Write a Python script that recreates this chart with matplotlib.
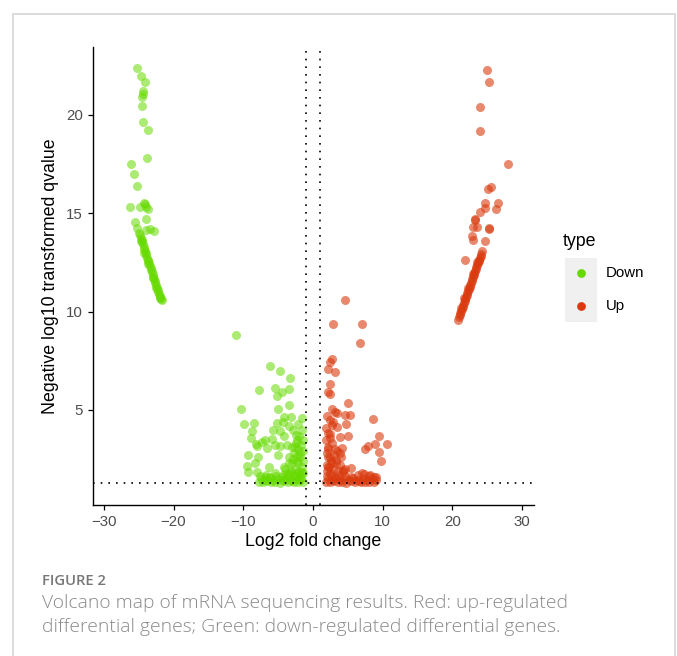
import matplotlib
matplotlib.use("Agg")
import matplotlib.pyplot as plt
from matplotlib.patches import Rectangle
from matplotlib.lines import Line2D

# ---------------- data ----------------
# Down-regulated (green): upper-left group
down_far_x = [-25.2, -24.7, -24.1, -24.4, -24.4, -24.5, -24.5, -24.4, -23.6, -23.8,
              -26.1, -25.7, -25.2, -26.3, -24.8, -24.3, -24.1, -24.0, -23.7, -23.9,
              -25.5, -25.2, -23.95, -23.4, -22.8]
down_far_y = [22.4, 22.0, 21.7, 21.2, 21.06, 20.9, 20.45, 19.64, 19.25, 17.82,
              17.52, 17.0, 16.37, 15.33, 15.33, 15.5, 15.47, 15.3, 15.2, 14.7,
              14.56, 14.27, 14.15, 14.2, 14.1]
# dense streak of the down group
down_streak_x = [-24.9, -24.8, -24.7, -24.6, -24.5, -24.4, -24.3, -24.2, -24.1, -24.0,
                 -23.9, -23.8, -23.7, -23.6, -23.5, -23.4, -23.3, -23.2, -23.1, -23.0,
                 -22.9, -22.8, -22.7, -22.6, -22.5, -22.4, -22.3, -22.2, -22.1, -22.0,
                 -21.9, -21.8, -21.7, -24.7, -24.2, -23.6, -23.0, -22.5, -22.0]
down_streak_y = [14.0, 13.9, 13.75, 13.65, 13.55, 13.45, 13.3, 13.2, 13.1, 13.0,
                 12.9, 12.75, 12.65, 12.55, 12.45, 12.3, 12.2, 12.1, 12.0, 11.9,
                 11.75, 11.65, 11.55, 11.45, 11.35, 11.2, 11.1, 11.0, 10.9, 10.8,
                 10.75, 10.65, 10.6, 13.6, 13.0, 12.4, 11.7, 11.2, 10.7]
# central down cluster
down_mid_x = [-11.05, -6.1, -4.8, -3.25, -7.7, -5.5, -4.4, -3.4, -5.1, -10.3,
              -5.0, -3.5, -4.1, -3.2, -9.85, -8.4, -5.2, -4.3, -3.4, -8.7,
              -5.7, -4.7, -2.8, -8.9, -6.9, -4.2, -2.5, -8.2, -7.3, -5.9,
              -2.3, -8.1, -6.6, -5.5, -4.8, -3.8, -2.6, -1.9, -9.3, -7.9,
              -5.0, -3.5, -2.3, -9.4, -8.3, -6.3, -4.1, -3.05, -2.1, -9.3,
              -8.1, -6.9, -5.45, -4.25, -3.3, -2.3, -1.6]
down_mid_y = [8.81, 7.25, 6.98, 6.61, 6.03, 6.12, 5.93, 6.05, 5.73, 5.03,
              5.03, 5.25, 4.66, 4.63, 4.29, 4.32, 4.32, 4.4, 4.18, 3.93,
              4.0, 3.93, 3.98, 3.6, 3.5, 3.7, 3.73, 3.27, 3.39, 3.52,
              3.47, 3.17, 3.08, 3.22, 3.17, 3.22, 3.13, 2.83, 2.71, 2.59,
              2.71, 2.62, 2.66, 2.17, 2.29, 2.09, 2.12, 2.29, 2.29, 1.86,
              1.86, 1.61, 1.78, 1.69, 1.86, 1.78, 1.86]
down_low_x = [-7.8, -7.5, -7.2, -6.9, -6.6, -6.3, -6.0, -5.7, -5.4, -5.1,
              -4.8, -4.5, -4.2, -3.9, -3.6, -3.3, -3.0, -2.7, -2.4, -2.1,
              -1.8, -1.5, -7.6, -6.8, -6.1, -5.3, -4.4, -3.5, -2.6, -1.7,
              -2.0, -1.6, -2.3, -1.8, -1.5, -2.6, -2.9, -1.7, -2.2, -1.5,
              -2.0, -1.6, -2.4, -3.1, -3.4, -2.7, -1.9, -1.5, -2.5, -3.7,
              -4.0, -3.0, -1.6, -2.1, -1.5]
down_low_y = [1.35, 1.5, 1.32, 1.45, 1.38, 1.55, 1.33, 1.42, 1.36, 1.5,
              1.31, 1.44, 1.37, 1.52, 1.34, 1.46, 1.4, 1.33, 1.5, 1.36,
              1.44, 1.32, 1.62, 1.7, 1.58, 1.66, 1.6, 1.72, 1.64, 1.55,
              1.9, 2.1, 2.4, 2.6, 2.9, 2.0, 2.5, 3.2, 3.0, 3.5,
              3.7, 4.0, 3.3, 1.9, 2.3, 2.8, 1.7, 1.8, 1.6, 1.75,
              2.0, 3.1, 4.6, 4.3, 2.4]

# Up-regulated (red): upper-right group
up_far_x = [24.9, 25.25, 23.9, 23.9, 28.0, 25.5, 25.15, 24.6, 26.5, 24.7,
            26.2, 23.9, 23.2, 23.3, 22.9, 23.5, 25.3, 25.2, 22.85, 22.9,
            24.7, 21.8]
up_far_y = [22.3, 21.7, 20.4, 19.17, 17.52, 16.33, 16.25, 15.54, 15.5, 15.25,
            15.2, 15.08, 14.7, 14.65, 14.32, 14.32, 14.2, 14.23, 13.85, 13.65,
            13.57, 12.64]
up_streak_x = [20.85, 20.95, 21.05, 21.15, 21.25, 21.35, 21.45, 21.55, 21.65, 21.75,
               21.85, 21.95, 22.05, 22.15, 22.25, 22.35, 22.45, 22.55, 22.65, 22.75,
               22.85, 22.95, 23.05, 23.15, 23.25, 23.35, 23.45, 23.55, 23.65, 23.75,
               23.85, 23.95, 24.05, 24.15, 24.3, 21.2, 21.7, 22.3, 22.9, 23.5]
up_streak_y = [9.6, 9.75, 9.85, 9.95, 10.05, 10.15, 10.25, 10.35, 10.45, 10.55,
               10.65, 10.75, 10.85, 10.95, 11.05, 11.15, 11.25, 11.35, 11.45, 11.55,
               11.65, 11.75, 11.85, 11.95, 12.05, 12.15, 12.25, 12.35, 12.45, 12.55,
               12.65, 12.75, 12.85, 12.95, 13.1, 10.2, 10.7, 11.2, 11.9, 12.5]
up_mid_x = [4.6, 2.9, 7.1, 6.75, 2.7, 2.45, 2.2, 3.15, 2.45, 2.2,
            2.45, 5.07, 2.7, 3.15, 1.97, 3.5, 4.6, 5.3, 8.55, 2.45,
            2.7, 3.4, 4.8, 2.2, 3.9, 5.07, 2.45, 9.5, 7.5, 7.9,
            8.9, 10.65, 9.5, 9.8, 2.2, 3.15, 4.1, 1.97, 2.4, 3.3,
            3.9, 2.7, 2.1, 4.3, 5.45, 7.0, 8.2, 9.1]
up_mid_y = [10.59, 9.37, 9.37, 8.42, 7.57, 7.45, 7.08, 6.91, 6.3, 5.93,
            5.81, 5.34, 5.05, 4.91, 4.69, 4.83, 4.74, 4.74, 4.54, 4.49,
            4.23, 4.12, 4.29, 3.81, 3.64, 3.67, 3.56, 3.67, 3.0, 3.17,
            3.27, 3.27, 2.88, 2.4, 3.13, 3.0, 3.05, 2.8, 2.62, 2.46,
            2.8, 2.29, 2.12, 1.95, 2.03, 1.78, 1.69, 1.61]
up_low_x = [1.8, 2.1, 2.4, 2.7, 3.0, 3.3, 3.6, 3.9, 4.2, 4.5,
            4.8, 5.1, 5.4, 5.7, 6.0, 6.3, 6.6, 6.9, 7.2, 7.5,
            7.8, 8.1, 8.4, 8.7, 9.0, 2.0, 2.6, 3.2, 3.8, 4.6,
            5.5, 6.4, 7.3, 8.0, 8.8, 2.0, 2.3, 2.6, 2.1, 2.9,
            3.3, 3.6, 2.2, 2.7, 1.9, 3.0, 2.4, 3.9, 4.3, 2.0,
            3.4, 2.5, 1.9, 2.8, 4.0, 4.6]
up_low_y = [1.35, 1.5, 1.32, 1.45, 1.38, 1.55, 1.33, 1.42, 1.36, 1.5,
            1.31, 1.44, 1.37, 1.52, 1.34, 1.46, 1.4, 1.33, 1.5, 1.36,
            1.44, 1.32, 1.48, 1.35, 1.42, 1.65, 1.72, 1.6, 1.68, 1.62,
            1.58, 1.7, 1.75, 1.66, 1.6, 1.9, 2.1, 2.4, 2.6, 2.0,
            2.3, 1.9, 3.0, 3.3, 3.5, 2.7, 1.8, 2.2, 1.85, 2.2,
            2.9, 3.8, 4.1, 4.4, 2.6, 2.0]

down_x = down_far_x + down_streak_x + down_mid_x + down_low_x
down_y = down_far_y + down_streak_y + down_mid_y + down_low_y
up_x = up_far_x + up_streak_x + up_mid_x + up_low_x
up_y = up_far_y + up_streak_y + up_mid_y + up_low_y

categories = ["Down", "Up"]
fc_cut = 1.0
q_cut = 1.3
x_ticks = [-30, -20, -10, 0, 10, 20, 30]
y_ticks = [5, 10, 15, 20]

# ---------------- styling ----------------
GREEN = "#66DA00"
RED = "#DA3A0E"
W, H = 677, 656
plt.rcParams["font.family"] = ["Liberation Sans", "DejaVu Sans"]

fig = plt.figure(figsize=(W / 100, H / 100), dpi=100)

# outer frame
fig.add_artist(Rectangle((13 / W, -0.01), (675 - 13) / W, (H - 14) / H + 0.01,
                         transform=fig.transFigure, fill=False,
                         edgecolor="#d6d6d6", linewidth=1.2))

ax = fig.add_axes([92.7 / W, 1 - 505 / H, (534 - 92.7) / W, (505 - 47.3) / H])
ax.scatter(down_x, down_y, s=42, color=GREEN, alpha=0.55, linewidths=0, zorder=2)
ax.scatter(up_x, up_y, s=42, color=RED, alpha=0.6, linewidths=0, zorder=2)

dot = (0, (1, 3.6))
ax.axvline(-fc_cut, color="black", lw=1.2, ls=dot, zorder=3)
ax.axvline(fc_cut, color="black", lw=1.2, ls=dot, zorder=3)
ax.axhline(q_cut, color="black", lw=1.2, ls=dot, zorder=3)

ax.set_xlim(-31.6, 31.7)
ax.set_ylim(0.17, 23.44)
ax.set_xticks(x_ticks)
ax.set_yticks(y_ticks)
ax.tick_params(labelsize=10.8, labelcolor="#4d4d4d", color="black",
               length=3.5, width=0.9)
for sp in ["top", "right"]:
    ax.spines[sp].set_visible(False)
for sp in ["left", "bottom"]:
    ax.spines[sp].set_linewidth(1.0)

fig.text(313 / W, 1 - 541 / H, "Log2 fold change", ha="center", va="center",
         fontsize=12.8, color="black")
fig.text(51 / W, 1 - 276 / H, "Negative log10 transformed qvalue", ha="center",
         va="center", rotation=90, fontsize=12.8, color="black")

# legend (drawn manually)
fig.text(563 / W, 1 - 241 / H, "type", ha="left", va="center", fontsize=12.8)
fig.add_artist(Rectangle((565 / W, 1 - 322 / H), 32 / W, 64 / H,
                         transform=fig.transFigure, facecolor="#f0f0f0",
                         edgecolor="none"))
for lab, col, yy in zip(categories, [GREEN, RED], [273, 306]):
    fig.add_artist(Line2D([581 / W], [1 - yy / H], marker="o", markersize=6.3,
                          color=col, markeredgewidth=0, transform=fig.transFigure))
    fig.text(606 / W, 1 - yy / H, lab, ha="left", va="center", fontsize=10.8)

# caption
cap_font = ["Open Sans", "DejaVu Sans"]
fig.text(42 / W, 1 - 581 / H, "FIGURE 2", ha="left", va="center", fontsize=10.6,
         color="#777777", family=cap_font, fontweight="semibold")
fig.text(42 / W, 1 - 603 / H, "Volcano map of mRNA sequencing results. Red: up-regulated",
         ha="left", va="center", fontsize=13.9, color="#8a8a8a",
         family=cap_font, fontweight="light")
fig.text(42 / W, 1 - 627 / H, "differential genes; Green: down-regulated differential genes.",
         ha="left", va="center", fontsize=13.9, color="#8a8a8a",
         family=cap_font, fontweight="light")

fig.savefig("out.png", dpi=100)
